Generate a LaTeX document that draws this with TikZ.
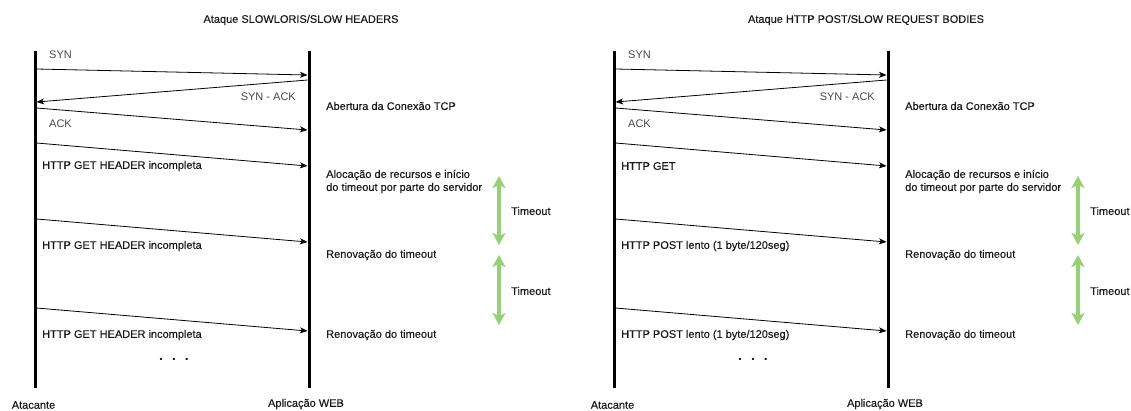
\documentclass[tikz,border=0pt]{standalone}
\usepackage{fontspec}
\setmainfont{Liberation Sans}
\newfontfamily\drawfont{Liberation Sans}[FakeBold=0.25]
\usetikzlibrary{arrows.meta}
\definecolor{tgreen}{HTML}{97D077}
\newcommand\seqdia[6]{%
\begin{scope}[xshift=#1, name prefix=#2-]
  % lifelines
  \coordinate (LT) at (35,51);  \coordinate (LB) at (35,388);
  \coordinate (RT) at (309,51); \coordinate (RB) at (309,388);
  \draw[life] (LT) -- (LB);
  \draw[life] (RT) -- (RB);
  % message end points
  \coordinate (s1) at (36.5,69);  \coordinate (e1) at (307.5,75);
  \coordinate (s2) at (307.5,80); \coordinate (e2) at (36.5,102);
  \coordinate (s3) at (36.5,108); \coordinate (e3) at (307.5,130);
  \coordinate (s4) at (36.5,143); \coordinate (e4) at (307.5,166);
  \coordinate (s5) at (36.5,219); \coordinate (e5) at (307.5,242);
  \coordinate (s6) at (36.5,308); \coordinate (e6) at (307.5,331);
  \draw[msg] (s1) -- (e1);
  \draw[msg] (s2) -- (e2);
  \draw[msg] (s3) -- (e3);
  \draw[msg] (s4) -- (e4);
  \draw[msg] (s5) -- (e5);
  \draw[msg] (s6) -- (e6);
  % timeouts
  \coordinate (g1a) at (499,176); \coordinate (g1b) at (499,245);
  \coordinate (g2a) at (499,255); \coordinate (g2b) at (499,325);
  \draw[tmo] (g1a) -- (g1b);
  \draw[tmo] (g2a) -- (g2b);
  % labels
  \node[lbl] (title) at (#3,20) {#4};
  \node[sublbl, anchor=west] (syn) at (49,55) {SYN};
  \node[sublbl, anchor=east] (synack) at (296,97) {SYN - ACK};
  \node[sublbl, anchor=west] (ack) at (49,124) {ACK};
  \node[lbl, anchor=west] (m1) at (42,166) {#5};
  \node[lbl, anchor=west] (m2) at (42,246) {#6};
  \node[lbl, anchor=west] (m3) at (42,335) {#6};
  \node[lbl, anchor=west] (abert) at (326,106) {Abertura da Conexão TCP};
  \node[lbl, anchor=west, align=left] (aloc) at (326,181.5) {Alocação de recursos e início\\do timeout por parte do servidor};
  \node[lbl, anchor=west] (ren1) at (326,255) {Renovação do timeout};
  \node[lbl, anchor=west] (ren2) at (326,335) {Renovação do timeout};
  \node[lbl, anchor=west] (to1) at (511,211) {Timeout};
  \node[lbl, anchor=west] (to2) at (511,291) {Timeout};
  \node[lbl, font=\fontsize{14}{14}\selectfont\bfseries] (dots) at (174,359) {.\hspace{9pt}.\hspace{9pt}.};
  \node[lbl] (atac) at (33.5,405) {Atacante};
  \node[lbl] (apl) at (306,404) {Aplicação WEB};
\end{scope}}
\begin{document}
\begin{tikzpicture}[x=1pt,y=-1pt,
  lbl/.style={font=\drawfont\fontsize{11}{13}\selectfont, inner sep=0pt, text=black!90},
  sublbl/.style={lbl, font=\rmfamily\fontsize{11}{13}\selectfont, text=black!72},
  life/.style={line width=3pt},
  msg/.style={line width=0.8pt, -{Stealth[length=7.5pt,width=6pt,inset=2pt]}},
  tmo/.style={line width=3.5pt, draw=tgreen, {Stealth[length=12pt,width=13pt,inset=3pt]}-{Stealth[length=12pt,width=13pt,inset=3pt]}}]
\useasboundingbox (0,0) rectangle (1131,410);
\seqdia{0pt}{L}{301}{Ataque SLOWLORIS/SLOW HEADERS}{HTTP GET HEADER incompleta}{HTTP GET HEADER incompleta}
\seqdia{579pt}{R}{287}{Ataque HTTP POST/SLOW REQUEST BODIES}{HTTP GET}{HTTP POST lento (1 byte/120seg)}
\end{tikzpicture}
\end{document}
